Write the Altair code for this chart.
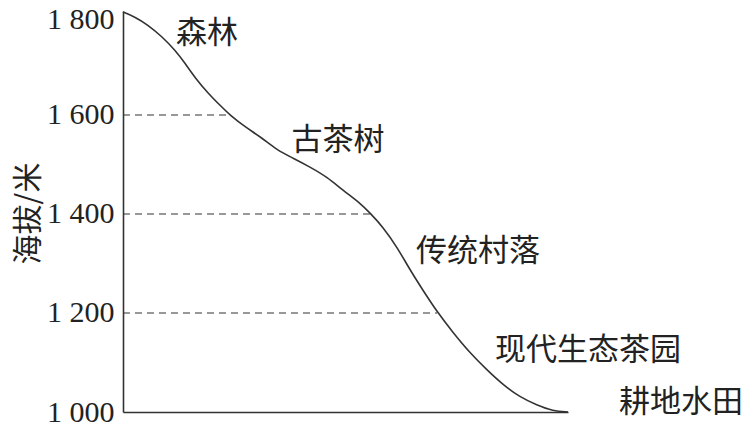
import altair as alt
import pandas as pd

# profile of the slope (distance in relative units, elevation in m)
dist = [0, 2.7, 5.6, 8.8, 11.7, 13.9, 16.2, 19.1, 22.2, 24.0, 27.4, 31.2, 34.6, 38.2,
        42.0, 45.8, 49.4, 53.3, 55.5, 58.4, 61.6, 64.5, 67.4, 70.6, 74.2, 78.0, 81.8,
        85.4, 89.2, 93.0, 96.6, 100]
elev = [1808, 1798, 1782, 1758, 1731, 1705, 1675, 1644, 1616, 1600, 1576, 1554, 1529, 1513,
        1495, 1475, 1448, 1422, 1402, 1374, 1333, 1287, 1246, 1202, 1160, 1119, 1085,
        1055, 1030, 1014, 1002, 1000]

# dashed reference levels and where they meet the curve
ref_levels = [1600, 1400, 1200]
ref_ends = [24.0, 55.5, 70.6]

# zone labels
zone_names = ["森林", "古茶树", "传统村落", "现代生态茶园", "耕地水田"]
zone_x = [18.9, 48.3, 79.8, 104.5, 125.4]
zone_y = [1764, 1547, 1323, 1123, 1018]

y_ticks = [1000, 1200, 1400, 1600, 1800]

profile = pd.DataFrame({"d": dist, "e": elev})
refs = pd.DataFrame({"x0": [0] * len(ref_levels), "x1": ref_ends, "e": ref_levels})
zones = pd.DataFrame({"name": zone_names, "d": zone_x, "e": zone_y})

xscale = alt.Scale(domain=[0, 100], nice=False, zero=False)
yscale = alt.Scale(domain=[1000, 1810], nice=False, zero=False)

line = alt.Chart(profile).mark_line(color="#333333", strokeWidth=1.6, interpolate="basis").encode(
    x=alt.X("d:Q", scale=xscale,
            axis=alt.Axis(title=None, labels=False, ticks=False, grid=False,
                          domainColor="#333333", domainWidth=1.6)),
    y=alt.Y("e:Q", scale=yscale,
            axis=alt.Axis(values=y_ticks, title="海拔/米", grid=False, ticks=False,
                          labelExpr="replace(format(datum.value, ','), ',', ' ')",
                          labelFont="Liberation Serif", labelFontSize=30, labelColor="#222222",
                          labelPadding=9, labelOverlap=False, labelFlush=False,
                          labelOffset={"condition": {"test": "datum.value == 1800", "value": 4},
                                       "value": 0},
                          domainColor="#333333", domainWidth=1.6,
                          titleFont="Noto Sans CJK SC", titleFontSize=30, titleFontWeight="normal",
                          titleColor="#222222", titleAngle=270, titleX=-95, titleY=202,
                          titleAlign="center", titleBaseline="middle")),
)

rules = alt.Chart(refs).mark_rule(color="#333333", strokeWidth=1.1, strokeDash=[7, 5]).encode(
    x=alt.X("x0:Q", scale=xscale), x2="x1:Q", y=alt.Y("e:Q", scale=yscale)
)

labels = alt.Chart(zones).mark_text(font="Noto Sans CJK SC", fontSize=31, color="#222222",
                                    align="center", baseline="middle").encode(
    x=alt.X("d:Q", scale=xscale), y=alt.Y("e:Q", scale=yscale), text="name:N"
)

chart = alt.layer(rules, line, labels).properties(
    width=445, height=401,
    autosize=alt.AutoSizeParams(type="none"),
    padding={"left": 115, "top": 3, "right": 175, "bottom": 14},
).configure(background="white", view=alt.ViewConfig(stroke="transparent", strokeWidth=0))

chart.save("out.html", embed_options={"renderer": "svg", "actions": False})
